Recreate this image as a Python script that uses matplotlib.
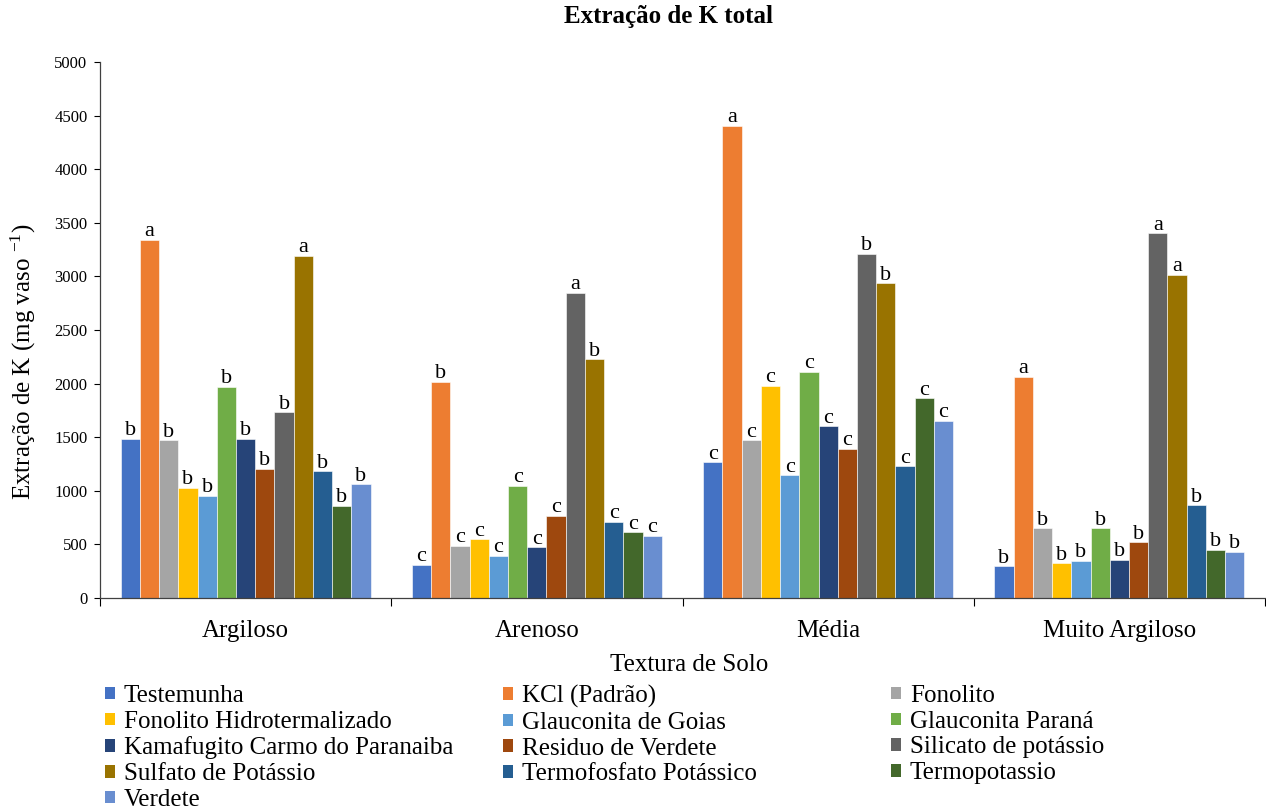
import numpy as np
import matplotlib
matplotlib.use("Agg")
import matplotlib.pyplot as plt
from matplotlib.patches import Patch

plt.rcParams["font.family"] = ["Liberation Serif", "DejaVu Serif"]
plt.rcParams["mathtext.fontset"] = "custom"
plt.rcParams["mathtext.rm"] = "Liberation Serif"
plt.rcParams["mathtext.it"] = "Liberation Serif:italic"

texturas = ["Argiloso", "Arenoso", "Média", "Muito Argiloso"]

tratamentos = [
    "Testemunha", "KCl (Padrão)", "Fonolito", "Fonolito Hidrotermalizado",
    "Glauconita de Goias", "Glauconita Paraná", "Kamafugito Carmo do Paranaiba",
    "Residuo de Verdete", "Silicato de potássio", "Sulfato de Potássio",
    "Termofosfato Potássico", "Termopotassio", "Verdete",
]

cores = [
    "#4472C4", "#ED7D31", "#A5A5A5", "#FFC000", "#5B9BD5", "#70AD47", "#264478",
    "#9E480E", "#636363", "#997300", "#255E91", "#43682B", "#698ED0",
]

# extração de K (mg vaso-1), uma lista por textura, na ordem dos tratamentos
k_argiloso = [1483, 3342, 1471, 1026, 954, 1968, 1483, 1203, 1732, 3193, 1182, 861, 1060]
k_arenoso = [311, 2015, 485, 547, 392, 1048, 473, 768, 2848, 2226, 709, 613, 578]
k_media = [1266, 4403, 1471, 1981, 1144, 2108, 1601, 1393, 3212, 2935, 1228, 1862, 1651]
k_muito_argiloso = [295, 2064, 650, 323, 345, 650, 358, 519, 3402, 3016, 865, 451, 429]

letras_argiloso = ["b", "a", "b", "b", "b", "b", "b", "b", "b", "a", "b", "b", "b"]
letras_arenoso = ["c", "b", "c", "c", "c", "c", "c", "c", "a", "b", "c", "c", "c"]
letras_media = ["c", "a", "c", "c", "c", "c", "c", "c", "b", "b", "c", "c", "c"]
letras_muito_argiloso = ["b", "a", "b", "b", "b", "b", "b", "b", "a", "a", "b", "b", "b"]

valores = np.array([k_argiloso, k_arenoso, k_media, k_muito_argiloso])
letras = [letras_argiloso, letras_arenoso, letras_media, letras_muito_argiloso]

fig = plt.figure(figsize=(12.66, 8.09), dpi=100)
ax = fig.add_axes([100 / 1266, 1 - 598 / 809, 1165 / 1266, 536 / 809])

n = len(tratamentos)
largura = 0.066
grupos = np.arange(len(texturas))
for i in range(n):
    x = grupos + (i - (n - 1) / 2) * largura
    ax.bar(x, valores[:, i], width=largura, color=cores[i],
           edgecolor="white", linewidth=0.4, zorder=2)
    for g in grupos:
        ax.annotate(letras[g][i], (x[g], valores[g, i]), xytext=(0, -1),
                    textcoords="offset points", ha="center", va="bottom",
                    fontsize=16)

ax.set_xlim(-0.5, len(texturas) - 0.5)
ax.set_ylim(0, 5000)
ax.set_yticks(np.arange(0, 5001, 500))
ax.tick_params(axis="y", labelsize=12, length=4, width=0.8, direction="out", pad=5)

# traços nos limites dos grupos, rótulos no centro
ax.set_xticks(np.arange(-0.5, len(texturas)), labels=[])
ax.set_xticks(grupos, labels=texturas, minor=True)
ax.tick_params(axis="x", which="major", length=6, width=0.8, direction="out")
ax.tick_params(axis="x", which="minor", length=0, labelsize=18, pad=16)

for lado in ["top", "right"]:
    ax.spines[lado].set_visible(False)
for lado in ["left", "bottom"]:
    ax.spines[lado].set_color("#404040")
    ax.spines[lado].set_linewidth(0.9)

ax.set_xlabel("Textura de Solo", fontsize=18)
ax.xaxis.set_label_coords(0.506, -0.105)
ax.set_ylabel("Extração de K (mg vaso $^{-1}$)", fontsize=18)
ax.yaxis.set_label_coords(-0.053, 0.44)
fig.text(668 / 1266, 1 - 16 / 809, "Extração de K total", ha="center", va="center",
         fontsize=18, fontweight="bold")

# legenda em três colunas preenchidas por linha
handles = [Patch(facecolor=c) for c in cores]
colunas_x = [105, 503, 891]
for j, cx in enumerate(colunas_x):
    idx = list(range(j, n, 3))
    fig.legend([handles[k] for k in idx], [tratamentos[k] for k in idx],
               loc="upper left", bbox_to_anchor=(cx / 1266, 1 - 685 / 809),
               frameon=False, fontsize=18, handlelength=0.4, handleheight=0.4,
               handletextpad=0.35, labelspacing=0.15, borderpad=0, borderaxespad=0)

fig.savefig("out.png", dpi=100)
